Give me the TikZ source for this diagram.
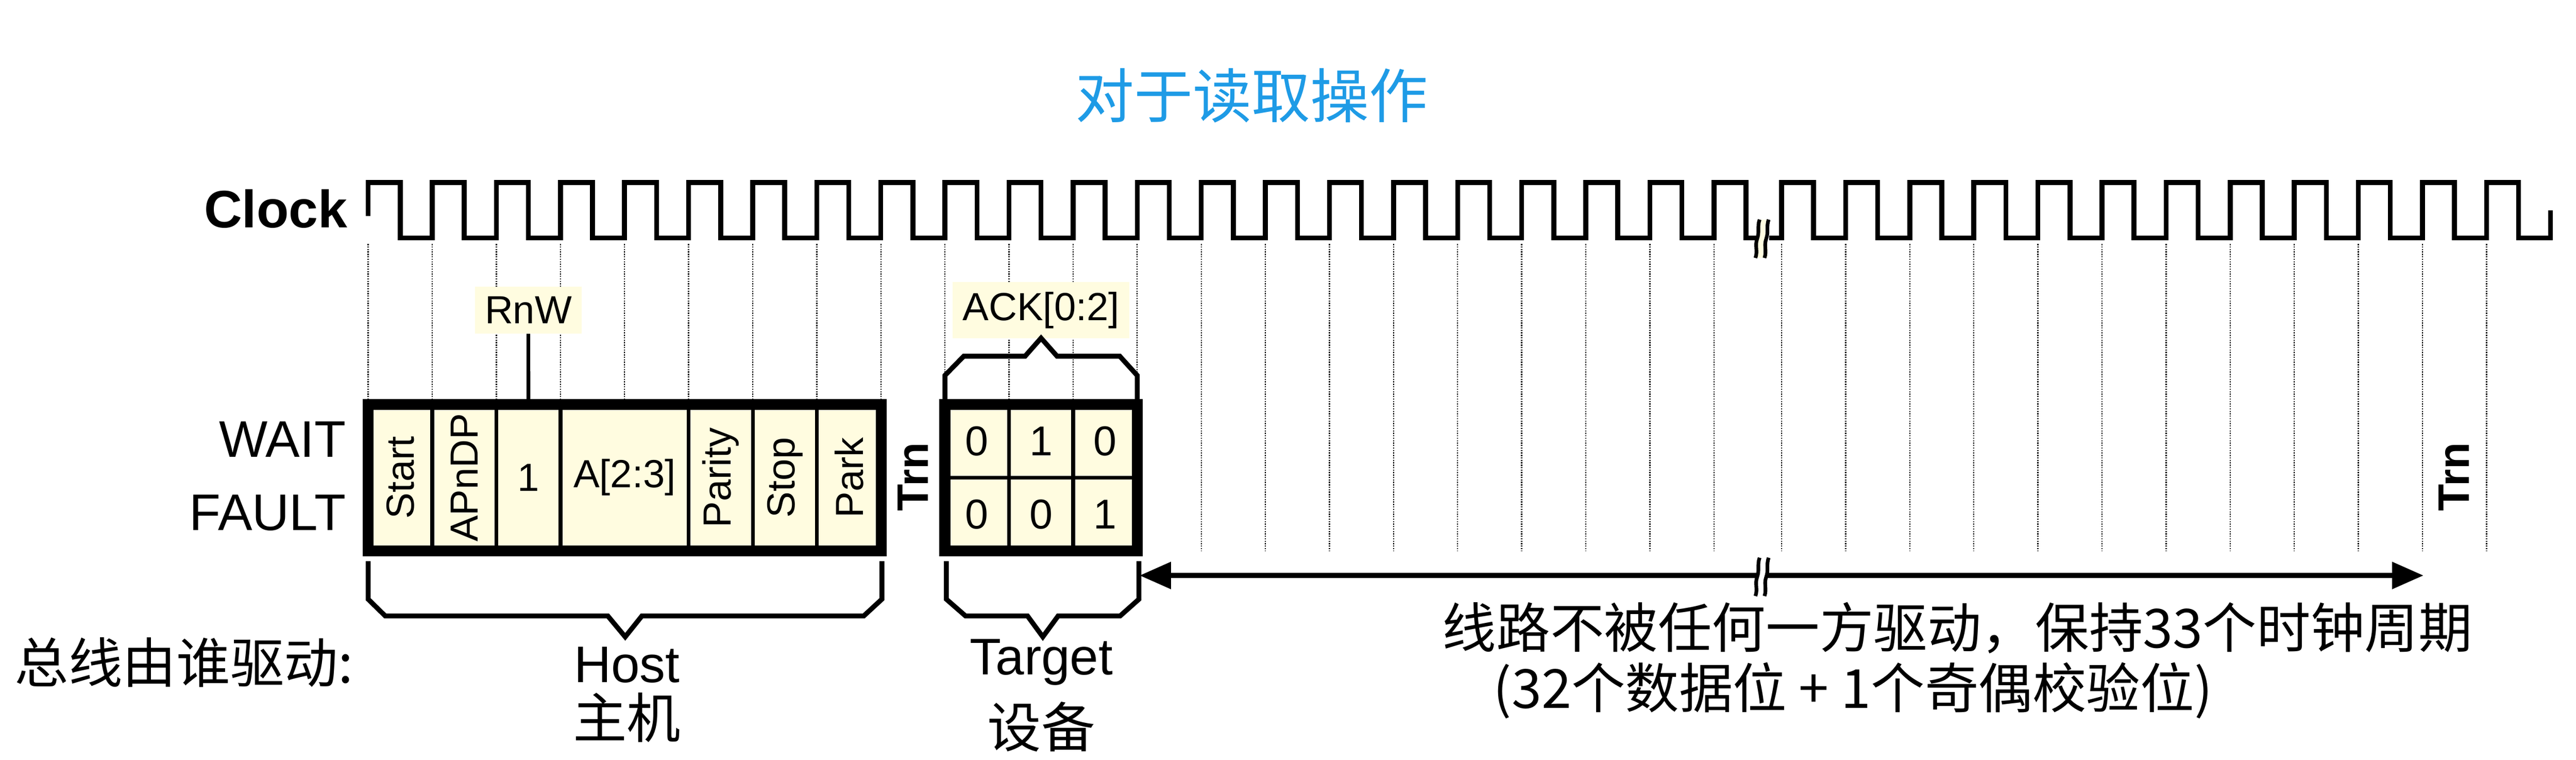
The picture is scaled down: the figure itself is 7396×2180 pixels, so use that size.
\documentclass[tikz,border=0pt]{standalone}
\usepackage{fontspec}
\setmainfont{Liberation Sans}
\newfontfamily\cjk{Noto Sans CJK SC}
\usetikzlibrary{arrows.meta, positioning, calc}
\definecolor{cellyellow}{HTML}{FFFCE0}
\definecolor{titleblue}{HTML}{1E9BE6}

\begin{document}
\begin{tikzpicture}[x=0.01cm, y=-0.01cm,
      wave/.style   ={line width=4pt},
      grid/.style   ={densely dotted, line width=1pt},
      cell/.style   ={rectangle, draw, line width=3pt, fill=cellyellow, minimum width=1.84cm, minimum height=4.2cm, inner sep=0pt, outer sep=0pt, font=\fontsize{32}{34}\selectfont},
      half/.style   ={cell, minimum height=2.1cm, font=\fontsize{34}{36}\selectfont},
      frame/.style  ={draw, line width=9pt},
      brace/.style  ={line width=4pt, line join=miter},
      tag/.style    ={fill=cellyellow, inner sep=8pt, font=\fontsize{32}{34}\selectfont},
      lbl/.style    ={font=\fontsize{42}{44}\selectfont},
      zh/.style     ={font=\fontsize{44}{50}\cjk},
      trn/.style    ={rotate=90, font=\bfseries\fontsize{36}{38}\selectfont},
      brk/.style    ={line width=3pt},
      >={Triangle[length=0.9cm, width=0.75cm]}
    ]
    \useasboundingbox (0,0) rectangle (7396,2180);

    % Titel
    \node[font=\fontsize{48}{52}\cjk, text=titleblue] (title) at (3594,274) {对于读取操作};

    % Klokke
    \node[font=\bfseries\fontsize{43}{45}\selectfont, anchor=east] (clk) at (1010,599) {Clock};
    \foreach \k in {0,...,21}
      \draw[grid] (1057+184*\k,700) -- (1057+184*\k,1580);
    \foreach \k in {0,...,11}
      \draw[grid] (5115+184*\k,700) -- (5115+184*\k,1580);
    \draw[wave] (1057,620) -- (1057,524)
      \foreach \k in {0,...,20} { -- ++(92,0) -- ++(0,159) -- ++(92,0) -- ++(0,-159) }
      -- ++(92,0) -- ++(0,159) -- (5050,683);
    \draw[wave] (5080,683) -- (5115,683)
      \foreach \k in {0,...,11} { -- ++(0,-159) -- ++(92,0) -- ++(0,159) -- ++(92,0) }
      -- ++(0,-80);
    \fill[cellyellow] (5045,630) rectangle (5075,740);
    \draw[brk] (5052,630) to[out=-110,in=70] (5045,685) to[out=-110,in=70] (5040,740);
    \draw[brk] (5078,630) to[out=-110,in=70] (5071,685) to[out=-110,in=70] (5066,740);

    % Host-felt
    \node[cell, anchor=north west] (start) at (1057,1160) {\rotatebox{90}{Start}};
    \node[cell, right=0pt of start] (apn) {\rotatebox{90}{APnDP}};
    \node[cell, right=0pt of apn]   (rnw) {1};
    \node[cell, right=0pt of rnw, minimum width=3.68cm] (addr) {A[2:3]};
    \node[cell, right=0pt of addr]  (par) {\rotatebox{90}{Parity}};
    \node[cell, right=0pt of par]   (stop) {\rotatebox{90}{Stop}};
    \node[cell, right=0pt of stop]  (park) {\rotatebox{90}{Park}};
    \draw[frame] (start.north west) rectangle (park.south east);

    \node[tag] (rnwtag) at (1517,890) {RnW};
    \draw[line width=3pt] (rnwtag) -- (rnw.north);

    \node[trn] (trn1) at (2621,1368) {Trn};

    % ACK-felt
    \node[half, anchor=north west] (a1) at (2713,1160) {0};
    \node[half, right=0pt of a1] (a2) {1};
    \node[half, right=0pt of a2] (a3) {0};
    \node[half, below=0pt of a1] (b1) {0};
    \node[half, right=0pt of b1] (b2) {0};
    \node[half, right=0pt of b2] (b3) {1};
    \draw[frame] (a1.north west) rectangle (b3.south east);

    \node[tag] (acktag) at (2989,890) {ACK[0:2]};
    \draw[brace] (a1.north west) -- ++(0,-83) -- (2767,1022) -- (2943,1022)
      -- (2989,970) -- (3035,1022) -- (3215,1022) -- (3265,1077) -- (a3.north east);

    \node[lbl, anchor=east] (wait)  at (1005,1260) {WAIT};
    \node[lbl, anchor=east] (fault) at (1005,1472) {FAULT};

    % Hvem driver bussen
    \node[zh, anchor=west] (who) at (30,1900) {总线由谁驱动:};
    \draw[brace] (1057,1610) -- (1057,1719) -- (1106,1767) -- (1745,1767) -- (1795,1827)
      -- (1843,1767) -- (2480,1767) -- (2532,1719) -- (2532,1610);
    \node[lbl] (host) at (1800,1908) {Host};
    \node[zh]  (hostzh) at (1800,2058) {主机};
    \draw[brace] (2717,1610) -- (2717,1719) -- (2772,1767) -- (2950,1767) -- (2994,1827)
      -- (3038,1767) -- (3216,1767) -- (3270,1719) -- (3270,1610);
    \node[lbl] (target) at (2990,1900) {Target};
    \node[zh]  (targetzh) at (2990,2085) {设备};

    % Udrevet linje
    \coordinate (p0) at (3272,1651);
    \coordinate (p1) at (6958,1651);
    \draw[<->, line width=4pt] (p0) -- (p1);
    \fill[white] (5045,1600) rectangle (5075,1710);
    \draw[brk] (5052,1600) to[out=-110,in=70] (5045,1655) to[out=-110,in=70] (5040,1710);
    \draw[brk] (5078,1600) to[out=-110,in=70] (5071,1655) to[out=-110,in=70] (5066,1710);
    \node[trn] (trn2) at (7045,1368) {Trn};
    \node[zh] (note1) at (5620,1802) {线路不被任何一方驱动，保持33个时钟周期};
    \node[zh] (note2) at (5320,1981) {(32个数据位 + 1个奇偶校验位)};

  \end{tikzpicture}
\end{document}
